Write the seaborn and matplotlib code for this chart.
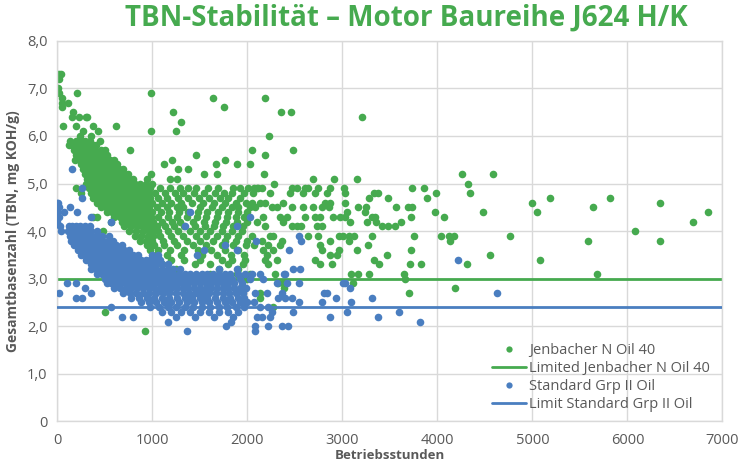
import pandas as pd
import matplotlib.pyplot as plt
import seaborn as sns
from matplotlib.lines import Line2D

# values: rows of (TBN, [Betriebsstunden, ...])
jenbacher_top = [
    (7.3, [0, 20, 40]),
    (7.2, [0, 15]),
    (7.0, [0, 10]),
    (6.9, [20, 205, 985]),
    (6.8, [45, 1640, 2190]),
    (6.7, [50, 115]),
    (6.6, [45, 1750]),
    (6.5, [170, 1215, 2350, 2460]),
    (6.4, [150, 230, 300, 315, 3210]),
    (6.3, [1300]),
    (6.2, [65, 200, 380, 615]),
    (6.1, [275, 430, 985, 1250]),
    (6.0, [240, 360, 2230]),
]

jenbacher_main = [
    (5.9, [130, 200, 255, 290, 340, 450]),
    (5.8, [125, 150, 210, 240, 270, 325, 380, 410]),
    (5.7, [180, 230, 280, 310, 350, 400, 460, 500, 760, 2050, 2485]),
    (5.6, [200, 260, 300, 340, 380, 420, 470, 520, 1465, 2190]),
    (5.5, [190, 240, 290, 330, 370, 410, 450, 500, 550, 600, 1210, 1765]),
    (5.4, [250, 300, 340, 380, 420, 460, 500, 540, 580, 630, 1125, 1670, 1890, 2030]),
    (5.3, [270, 320, 360, 400, 440, 480, 520, 560, 600, 650, 690, 1275, 1380]),
    (5.2, [290, 330, 370, 410, 450, 490, 530, 570, 610, 660, 700, 740, 985, 1545, 1680, 2175]),
    (5.1, [310, 350, 390, 430, 470, 510, 550, 590, 630, 670, 710, 750, 800, 940, 1185, 1265]),
    (5.0, [300, 340, 380, 420, 460, 500, 540, 580, 620, 660, 700, 740, 780, 820, 870, 930,
           1000, 2285]),
    (4.9, [200, 330, 370, 410, 450, 490, 530, 570, 610, 650, 690, 730, 770, 810, 850, 890,
           940, 980, 1080, 1185, 1290, 1375, 1465, 1585, 1690, 1845, 1920, 2005, 2100]),
    (4.8, [250, 350, 400, 440, 480, 520, 560, 600, 640, 680, 720, 760, 800, 840, 880, 920,
           960, 1025, 1130, 1235, 1320, 1440, 1545, 1665, 1750, 1835, 1960, 2060]),
    (4.7, [380, 420, 460, 500, 540, 580, 620, 660, 700, 740, 780, 820, 860, 900, 940, 980,
           1060, 1150, 1270, 1380, 1490, 1600, 1710, 1800, 1920]),
    (4.6, [420, 470, 520, 560, 600, 640, 680, 720, 760, 800, 840, 880, 920, 960, 1000, 1100,
           1200, 1300, 1420, 1530, 1650, 1760, 1880, 1990]),
    (4.5, [460, 510, 560, 610, 650, 690, 730, 770, 810, 850, 890, 930, 970, 1045, 1150, 1255,
           1325, 1500, 1625, 1730, 1835, 1905, 2030]),
    (4.4, [520, 580, 640, 690, 740, 790, 840, 880, 920, 960, 1000, 1090, 1180, 1280, 1380,
           1480, 1580, 1690, 1800, 1900, 2000]),
    (4.3, [380, 415, 600, 660, 720, 770, 820, 870, 910, 950, 990, 1060, 1160, 1260, 1360,
           1470, 1570, 1680, 1790, 1880, 1960]),
    (4.2, [570, 680, 740, 800, 850, 900, 950, 1010, 1100, 1205, 1290, 1430, 1540, 1660, 1780,
           1890, 1995, 2100]),
    (4.1, [700, 780, 840, 890, 940, 990, 1050, 1130, 1230, 1330, 1450, 1550, 1650, 1740, 1850,
           1950]),
    (4.0, [480, 750, 830, 900, 960, 1020, 1065, 1170, 1275, 1400, 1500, 1610, 1730, 1835, 1940]),
    (3.9, [820, 880, 950, 1010, 1080, 1200, 1320, 1460, 1560, 1680, 1790, 1900]),
    (3.8, [870, 930, 1000, 1110, 1230, 1360, 1500, 1640, 1770, 1880, 2000]),
    (3.7, [940, 1020, 1120, 1260, 1430, 1570, 1730, 1850, 1990]),
    (3.6, [980, 1060, 1190, 1330, 1480, 1620, 1760, 1900]),
    (3.5, [1040, 1150, 1300, 1520, 1680, 1830, 1960]),
    (3.4, [1050, 1200, 1330, 1500, 1730, 1840, 1975]),
    (3.3, [1100, 1450, 1610, 1800, 1950]),
    (3.2, [1250, 1700, 1900]),
    (3.1, [1610, 1890, 2030]),
    (3.0, [1950, 2000]),
    (2.3, [500]),
    (1.9, [925]),
]

jenbacher_tail = [
    (5.2, [4255, 4585]),
    (5.1, [2690, 2915, 3150]),
    (5.0, [4320]),
    (4.9, [2065, 2115, 2150, 2465, 2520, 2605, 2640, 2745, 2870, 3020, 3730, 3860]),
    (4.8, [2240, 2450, 2590, 2710, 2835, 3030, 3335, 3380, 3985, 4340]),
    (4.7, [3280, 3485, 3895, 5190, 5820]),
    (4.6, [2045, 2135, 2185, 2380, 2820, 2870, 3030, 4995, 6345]),
    (4.5, [2080, 2255, 2310, 2465, 2590, 2695, 2785, 2860, 3170, 3245, 3565, 3690, 3730, 5640]),
    (4.4, [3045, 3240, 3975, 4480, 5045, 6850]),
    (4.3, [2170, 2345, 2415, 2605, 2710, 2765, 2905, 2975, 3030, 3310, 3345, 3720, 4075]),
    (4.2, [2380, 3080, 3255, 3355, 3620, 6695]),
    (4.1, [2185, 2465, 2520, 2570, 2730, 2785, 3420, 3485, 3555]),
    (4.0, [6075]),
    (3.9, [2045, 2240, 2275, 2640, 2745, 2960, 3010, 3065, 3125, 3310, 3755, 4040, 4125, 4170,
           4760]),
    (3.8, [2150, 2360, 2870, 3070, 4135, 5590, 6345]),
    (3.7, [2065, 2220, 2345, 2765, 3265]),
    (3.6, [2170, 2275, 2785, 2960, 3150, 3720]),
    (3.5, [2205, 2870, 2940, 3475, 4550]),
    (3.4, [2185, 2310, 2710, 3335, 5075]),
    (3.3, [2220, 2765, 2890, 3390, 3715, 3830, 4315]),
    (3.1, [2290, 3090, 3165, 3280, 3645, 5680]),
    (3.0, [3655]),
    (2.9, [2325, 2380, 3110]),
    (2.8, [2390, 4185]),
    (2.7, [2135, 3700]),
    (2.6, [2135]),
    (2.4, [2270]),
]

standard_main = [
    (5.3, [150]),
    (4.9, [255]),
    (4.7, [260]),
    (4.6, [0, 10]),
    (4.5, [0, 20, 135]),
    (4.4, [0, 70, 205, 1395]),
    (4.3, [0, 15, 350]),
    (4.2, [0, 570]),
    (4.1, [30, 120, 160, 200, 240, 290, 340, 1345, 1890]),
    (4.0, [40, 110, 150, 190, 230, 270, 310, 360, 420]),
    (3.9, [130, 170, 210, 250, 290, 330, 370, 420, 470, 540]),
    (3.8, [140, 180, 220, 260, 300, 340, 380, 430, 480, 530, 590]),
    (3.7, [180, 220, 260, 300, 340, 380, 420, 460, 510, 560, 620, 680, 1765]),
    (3.6, [220, 260, 300, 340, 380, 420, 460, 500, 550, 600, 650, 700, 750, 1540, 1890]),
    (3.5, [250, 290, 330, 370, 410, 450, 490, 530, 570, 610, 650, 700, 750, 800, 850, 1000,
           1060, 1470]),
    (3.4, [300, 340, 380, 420, 460, 500, 540, 580, 620, 660, 700, 740, 780, 830, 880, 930,
           980, 1030, 1080]),
    (3.3, [350, 390, 430, 470, 510, 550, 590, 630, 670, 710, 750, 790, 840, 890, 940, 990,
           1040, 1100, 1160]),
    (3.2, [360, 410, 460, 500, 540, 580, 620, 660, 700, 740, 790, 840, 890, 940, 990, 1040,
           1100, 1160, 1220, 1290, 1700, 1890]),
    (3.1, [420, 470, 520, 570, 620, 670, 720, 770, 820, 870, 920, 970, 1020, 1070, 1120, 1170,
           1220, 1280, 1340, 1400, 1460, 1520, 1580, 1640, 1700, 1760, 1820, 1900, 1980]),
    (3.0, [500, 550, 600, 650, 700, 750, 800, 850, 900, 950, 1000, 1050, 1100, 1150, 1200,
           1250, 1300, 1360, 1420, 1480, 1540, 1600, 1660, 1720, 1780, 1840, 1920]),
    (2.9, [100, 195, 520, 570, 620, 670, 720, 770, 820, 870, 920, 970, 1020, 1070, 1120, 1170,
           1220, 1270, 1320, 1380, 1440, 1500, 1560, 1620, 1680, 1740, 1800, 1860, 1940]),
    (2.8, [290, 600, 660, 720, 780, 840, 900, 960, 1020, 1080, 1140, 1200, 1260, 1320, 1380,
           1440, 1500, 1560, 1620, 1680, 1740, 1800, 1860, 1920, 1990]),
    (2.7, [20, 350, 690, 760, 830, 900, 970, 1040, 1110, 1180, 1250, 1320, 1390, 1460, 1530,
           1600, 1670, 1740, 1810, 1880, 1950]),
    (2.6, [200, 255, 780, 860, 940, 1020, 1100, 1180, 1260, 1340, 1420, 1500, 1580, 1660,
           1740, 1820, 1900, 1970]),
    (2.5, [880, 960, 1040, 1120, 1200, 1280, 1360, 1440, 1520, 1600, 1680, 1760, 1840, 1920,
           2000]),
    (2.4, [565, 980, 1070, 1160, 1250, 1340, 1430, 1520, 1610, 1700, 1790, 1880, 1960]),
    (2.3, [1100, 1200, 1300, 1400, 1500, 1600, 1700, 1800, 1900]),
    (2.2, [685, 795, 1250, 1450, 1650, 1850]),
    (2.1, [1170, 1830]),
    (2.0, [1780]),
    (1.9, [1360]),
]

standard_tail = [
    (4.3, [2030]),
    (3.9, [2540]),
    (3.8, [2090, 2570]),
    (3.6, [2440]),
    (3.4, [4220]),
    (3.2, [2485, 2555]),
    (3.1, [2045, 2135, 2385, 2400]),
    (3.0, [2030, 2170]),
    (2.9, [2310, 2415, 2540, 3010, 3030]),
    (2.8, [3080]),
    (2.7, [2080, 2205, 2360, 2810, 2835, 4630]),
    (2.6, [2325, 2400, 2465, 2935, 3315]),
    (2.5, [2065, 2540, 2785, 3095]),
    (2.4, [2135, 2220]),
    (2.3, [2255, 2485, 3045, 3600]),
    (2.2, [2100, 2150, 2240, 2870, 3370]),
    (2.1, [3820]),
    (2.0, [2080, 2220, 2360, 2430]),
    (1.9, [2085]),
]

jenbacher_limit = 3.0
standard_limit = 2.4

series_names = ['Jenbacher N Oil 40', 'Limited Jenbacher N Oil 40',
                'Standard Grp II Oil', 'Limit Standard Grp II Oil']
x_ticks = [0, 1000, 2000, 3000, 4000, 5000, 6000, 7000]
y_ticks = [0, 1, 2, 3, 4, 5, 6, 7, 8]
y_tick_labels = ['0', '1,0', '2,0', '3,0', '4,0', '5,0', '6,0', '7,0', '8,0']

GREEN = '#46aa4f'
BLUE = '#4a7ec0'
GREY = '#595959'


def to_frame(rows):
    recs = [(h, tbn) for tbn, hours in rows for h in hours]
    return pd.DataFrame(recs, columns=['hours', 'tbn'])


jen = to_frame(jenbacher_top + jenbacher_main + jenbacher_tail)
std = to_frame(standard_main + standard_tail)

sns.set_style('whitegrid')
plt.rcParams['font.family'] = ['Open Sans', 'DejaVu Sans']

fig, ax = plt.subplots(figsize=(7.44, 4.61), dpi=100)
fig.subplots_adjust(left=0.077, right=0.971, bottom=0.0857, top=0.9117)

# same drawing order as the original: points, limit, points, limit
sns.scatterplot(data=jen, x='hours', y='tbn', color=GREEN, s=30, linewidth=0,
                ax=ax, zorder=2)
ax.axhline(jenbacher_limit, color=GREEN, lw=2, zorder=2.5)
sns.scatterplot(data=std, x='hours', y='tbn', color=BLUE, s=30, linewidth=0,
                ax=ax, zorder=3)
ax.axhline(standard_limit, color=BLUE, lw=2, zorder=3.5)

ax.set_xlim(0, 7000)
ax.set_ylim(0, 8)
ax.set_xticks(x_ticks)
ax.set_xticklabels([str(t) for t in x_ticks])
ax.set_yticks(y_ticks)
ax.set_yticklabels(y_tick_labels)
ax.tick_params(colors=GREY, labelsize=10.5, length=0)
ax.tick_params(axis='x', pad=8)
ax.tick_params(axis='y', pad=7)
ax.grid(color='#d9d9d9', lw=1)
for sp in ax.spines.values():
    sp.set_color('#d9d9d9')
    sp.set_linewidth(1)

ax.set_xlabel('Betriebsstunden', fontsize=9.5, fontweight='bold', color=GREY, labelpad=1)
ax.set_ylabel('Gesamtbasenzahl (TBN, mg KOH/g)', fontsize=10, fontweight='bold', color=GREY,
              labelpad=5)

fig.text(0.546, 0.96, 'TBN-Stabilität – Motor Baureihe J624 H/K', ha='center', va='center',
         fontsize=20, fontweight='bold', color=GREEN)

handles = [
    Line2D([], [], ls='', marker='o', ms=4.5, color=GREEN, mew=0),
    Line2D([], [], color=GREEN, lw=2),
    Line2D([], [], ls='', marker='o', ms=4.5, color=BLUE, mew=0),
    Line2D([], [], color=BLUE, lw=2),
]
ax.legend(handles, series_names, loc='center left', bbox_to_anchor=(0.653, 0.116),
          frameon=False, fontsize=10.5, labelcolor=GREY, handlelength=2.35,
          handletextpad=0.2, labelspacing=0.2, borderpad=0, borderaxespad=0)

plt.savefig('out.png', dpi=100)
